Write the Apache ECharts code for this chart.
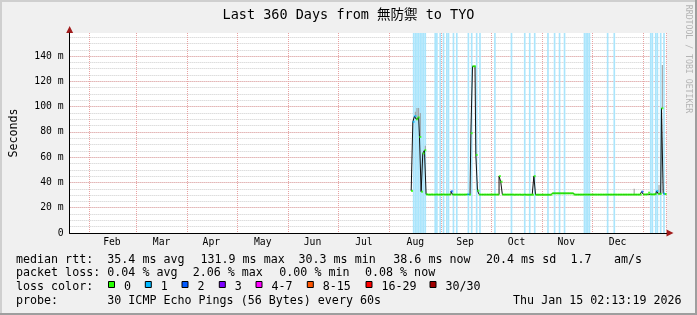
<!DOCTYPE html>
<html><head><meta charset="utf-8">
<script src="https://cdn.jsdelivr.net/npm/echarts@6/dist/echarts.min.js"></script>
<style>html,body{margin:0;padding:0;background:#f0f0f0}#c{width:697px;height:315px}</style>
</head><body><div id="c"></div>
<script>
// ---------------- data ----------------
const titleText = 'Last 360 Days from 無防禦 to TYO';
const rangeEndUTC = [2026, 0, 15, 2, 13, 19];
const rangeDays = 360;
const monthNames = ['Jan','Feb','Mar','Apr','May','Jun','Jul','Aug','Sep','Oct','Nov','Dec'];
const firstDataDate = [2025, 7, 14];
// median rtt (ms), one value per day from firstDataDate
const medianRtt = [
  33.3, 88.0, 92.5, 90.0, 91.5, 76.0, 32.7, 63.0, 65.5, 30.6,
  30.4, 30.4, 30.5, 30.4, 30.4, 30.5, 30.4, 30.4, 30.4, 30.5,
  30.4, 30.4, 30.4, 30.5, 33.0, 30.4, 30.4, 30.4, 30.4, 30.4,
  30.4, 30.4, 30.4, 30.5, 30.6, 30.4, 79.0, 131.9, 131.9, 61.8,
  33.5, 30.4, 30.4, 30.4, 30.4, 30.4, 30.4, 30.4, 30.4, 30.4,
  30.4, 30.4, 30.4, 45.0, 40.6, 30.4, 30.4, 30.4, 30.4, 30.4,
  30.4, 30.4, 30.3, 30.4, 30.3, 30.4, 30.3, 30.3, 30.4, 30.3,
  30.3, 30.3, 30.3, 30.3, 45.0, 30.3, 30.3, 30.3, 30.3, 30.3,
  30.3, 30.3, 30.3, 30.3, 30.3, 31.4, 31.4, 31.4, 31.4, 31.4,
  31.4, 31.4, 31.4, 31.4, 31.4, 31.4, 31.4, 31.4, 30.4, 30.4,
  30.4, 30.4, 30.4, 30.4, 30.4, 30.4, 30.4, 30.4, 30.4, 30.4,
  30.4, 30.4, 30.4, 30.4, 30.4, 30.4, 30.4, 30.4, 30.4, 30.4,
  30.4, 30.4, 30.4, 30.4, 30.4, 30.4, 30.4, 30.4, 30.4, 30.4,
  30.4, 30.4, 30.4, 30.4, 30.4, 30.4, 30.4, 30.4, 30.4, 32.7,
  30.5, 30.5, 30.6, 31.9, 30.6, 30.5, 30.6, 30.7, 33.3, 31.0,
  31.0, 98.7, 31.2, 30.8
];
// top of the smoke (ms) per day, null = none
const smokeTop = [
  null, null, 96, 99, 99, 95, null, null, 69, null,
  null, null, null, null, null, null, null, null, null, null,
  null, null, null, null, null, null, null, null, null, null,
  null, null, null, null, null, null, null, null, null, null,
  null, null, null, null, null, null, null, null, null, null,
  null, null, null, null, null, null, null, null, null, null,
  null, null, null, null, null, null, null, null, null, null,
  null, null, null, null, null, null, null, null, null, null,
  null, null, null, null, null, null, null, null, null, null,
  null, null, null, null, null, null, null, null, null, null,
  null, null, null, null, null, null, null, null, null, null,
  null, null, null, null, null, null, null, null, null, null,
  null, null, null, null, null, null, null, null, null, null,
  null, null, null, null, 35, null, null, null, null, null,
  null, null, null, null, null, null, null, null, null, 38,
  null, 133, null, null
];
// days with packet loss (1 = loss bar shown)
const lossBar = [
  0,1,1,1,1,1,1,1,1,0,
  0,0,0,0,1,1,0,1,0,1,
  0,1,1,0,0,1,0,1,0,0,
  0,0,0,0,1,0,1,0,0,1,
  0,1,0,0,0,0,0,0,0,0,
  1,0,0,0,0,0,0,0,0,0,
  1,0,0,0,0,0,0,0,1,0,
  0,1,0,0,1,0,0,0,0,0,
  0,0,1,0,0,0,1,0,0,1,
  0,0,1,0,0,0,0,0,0,0,
  0,0,0,0,1,1,1,1,0,0,
  0,0,0,0,0,0,0,0,1,0,
  0,0,1,0,0,0,0,0,0,0,
  0,0,0,0,0,0,0,0,0,0,
  0,0,0,0,1,1,0,1,1,0,
  1,0,1,0
];
// loss level used to colour the median (index into lossColors)
const medianLossLevel = [
  0,1,1,0,0,0,0,0,0,0,
  0,0,0,0,0,0,0,0,0,0,
  0,0,0,0,2,0,0,0,0,0,
  0,0,0,0,1,0,0,0,0,0,
  0,0,0,0,0,0,0,0,0,0,
  0,0,0,0,0,0,0,0,0,0,
  0,0,0,0,0,0,0,0,0,0,
  0,0,0,0,0,0,0,0,0,0,
  0,0,0,0,0,0,0,0,0,0,
  0,0,0,0,0,0,0,0,0,0,
  0,0,0,0,0,0,0,0,0,0,
  0,0,0,0,0,0,0,0,0,0,
  0,0,0,0,0,0,0,0,0,0,
  0,0,0,0,0,0,0,0,0,2,
  0,0,0,0,0,0,0,0,1,0,
  0,0,1,0
];
const lossColorLabels = ['0','1','2','3','4-7','8-15','16-29','30/30'];
const lossColors = ['#26ff00','#00b8ff','#0059ff','#7e00ff','#ff00ff','#ff5500','#ff0000','#a10000'];
const rttStats = ['35.4 ms avg','131.9 ms max','30.3 ms min','38.6 ms now','20.4 ms sd','1.7','am/s'];
const lossStats = ['0.04 % avg','2.06 % max','0.00 % min','0.08 % now'];
const probeText = '30 ICMP Echo Pings (56 Bytes) every 60s';
const stampText = 'Thu Jan 15 02:13:19 2026';

// ---------------- layout / style ----------------
const MONO = '"DejaVu Sans Mono", "Noto Sans CJK JP", monospace';
const legendFont = '11.66px ' + MONO;
const rttX = [107.3, 200.5, 298.5, 393.3, 486, 570.5, 614];
const lossX = [107.3, 192.7, 279.3, 365];
const lossBoxX = [108.5, 145.3, 182, 219.3, 256, 307.3, 366, 430];
const rowY = [259.5, 273.2, 286.9, 300.6];
const lossBarColor = '#aae5fc';

// ---------------- derived ----------------
const DAY = 86400000;
const endMs = Date.UTC(...rangeEndUTC);
const startMs = endMs - rangeDays * DAY;
const cats = [];
const monthStart = new Set();
for (let i = 0; i < rangeDays; i++) {
  const d = new Date(startMs + i * DAY);
  cats.push(d.toISOString().slice(0, 10));
  if (d.getUTCDate() === 1) monthStart.add(i);
}
const starts = [...monthStart].sort((a, b) => a - b);
const labelAt = {};
for (let j = 0; j + 1 < starts.length; j++) {
  const d0 = new Date(startMs + starts[j] * DAY);
  const m0 = Date.UTC(d0.getUTCFullYear(), d0.getUTCMonth(), 1);
  const m1 = Date.UTC(d0.getUTCFullYear(), d0.getUTCMonth() + 1, 1);
  const idx = Math.round(((m0 + m1) / 2 - startMs) / DAY - 0.5);
  labelAt[idx] = monthNames[d0.getUTCMonth()];
}
const off = Math.ceil((Date.UTC(...firstDataDate) - startMs) / DAY);
const medianFull = cats.map((c, i) => (i >= off && i - off < medianRtt.length) ? medianRtt[i - off] : null);
const yMax = Math.max(...medianRtt) * 1.2;
const lossBarData = [];
lossBar.forEach((v, k) => { if (v) lossBarData.push([k + off]); });
const smokeData = [];
smokeTop.forEach((v, k) => { if (v != null) smokeData.push([k + off, medianRtt[k], v]); });
const medianByLevel = [[], [], []];
medianRtt.forEach((v, k) => medianByLevel[medianLossLevel[k]].push([k + off, v]));

// ---------------- chart ----------------
const chart = echarts.init(document.getElementById('c'), null, { renderer: 'canvas' });

const graphics = [
  { type: 'rect', shape: { x: 0, y: 0, width: 697, height: 2 }, style: { fill: '#cfcfcf' } },
  { type: 'rect', shape: { x: 0, y: 0, width: 2, height: 315 }, style: { fill: '#cfcfcf' } },
  { type: 'rect', shape: { x: 0, y: 313, width: 697, height: 2 }, style: { fill: '#9e9e9e' } },
  { type: 'rect', shape: { x: 695, y: 0, width: 2, height: 315 }, style: { fill: '#9e9e9e' } },
  { type: 'text', x: 348.5, y: 15, style: { text: titleText, font: '13.5px ' + MONO, fill: '#000', align: 'center', verticalAlign: 'middle' } },
  { type: 'text', x: 688, y: 59, rotation: -Math.PI / 2, style: { text: 'RRDTOOL / TOBI OETIKER', font: '8.2px ' + MONO, fill: '#b4b4b4', align: 'center', verticalAlign: 'middle' } },
  { type: 'text', x: 16, y: rowY[0], style: { text: 'median rtt:', font: legendFont, fill: '#000', verticalAlign: 'middle' } },
  { type: 'text', x: 16, y: rowY[1], style: { text: 'packet loss:', font: legendFont, fill: '#000', verticalAlign: 'middle' } },
  { type: 'text', x: 16, y: rowY[2], style: { text: 'loss color:', font: legendFont, fill: '#000', verticalAlign: 'middle' } },
  { type: 'text', x: 16, y: rowY[3], style: { text: 'probe:', font: legendFont, fill: '#000', verticalAlign: 'middle' } },
  { type: 'text', x: 107.3, y: rowY[3], style: { text: probeText, font: legendFont, fill: '#000', verticalAlign: 'middle' } },
  { type: 'text', x: 681.5, y: rowY[3], style: { text: stampText, font: legendFont, fill: '#000', align: 'right', verticalAlign: 'middle' } }
];
rttStats.forEach((t, i) => graphics.push({ type: 'text', x: rttX[i], y: rowY[0], style: { text: t, font: legendFont, fill: '#000', verticalAlign: 'middle' } }));
lossStats.forEach((t, i) => graphics.push({ type: 'text', x: lossX[i], y: rowY[1], style: { text: t, font: legendFont, fill: '#000', verticalAlign: 'middle' } }));
lossColorLabels.forEach((t, i) => {
  graphics.push({ type: 'rect', shape: { x: lossBoxX[i], y: 281.5, width: 6, height: 6 }, style: { fill: lossColors[i], stroke: '#000', lineWidth: 1 } });
  graphics.push({ type: 'text', x: lossBoxX[i] + 15.5, y: rowY[2], style: { text: t, font: legendFont, fill: '#000', verticalAlign: 'middle' } });
});

const option = {
  animation: false,
  backgroundColor: '#f0f0f0',
  grid: { left: 66.5, right: 30.5, top: 33, bottom: 82, show: true, backgroundColor: '#ffffff', borderWidth: 0 },
  xAxis: [
    {
      type: 'category', data: cats, boundaryGap: true, z: 2,
      axisLine: { show: true, lineStyle: { color: '#000', width: 1 } },
      axisTick: { show: false },
      axisLabel: {
        interval: (i) => labelAt[i] !== undefined,
        formatter: (v, i) => labelAt[i] || '',
        fontFamily: MONO, fontSize: 9.75, color: '#000', margin: 5
      },
      splitLine: { show: true, interval: (i) => monthStart.has(i), lineStyle: { color: '#e9a2a2', type: [1, 1], width: 1 } }
    },
    {
      type: 'value', min: 0, max: 1, position: 'bottom', z: 1,
      axisLine: { show: true, symbol: ['none', 'triangle'], symbolSize: [7, 7], symbolOffset: [0, 3.5], lineStyle: { color: '#a11c1c', width: 1 } },
      axisLabel: { show: false }, axisTick: { show: false }, splitLine: { show: false }
    }
  ],
  yAxis: [
    {
      type: 'value', min: 0, max: yMax, interval: 20, z: 2,
      axisLine: { show: true, lineStyle: { color: '#000', width: 1 } },
      axisTick: { show: false },
      axisLabel: { formatter: (v) => v === 0 ? '0' : v + ' m', showMaxLabel: false, fontFamily: MONO, fontSize: 9.75, color: '#000', margin: 6 },
      splitLine: { show: true, showMinLine: false, showMaxLine: false, lineStyle: { color: '#e9a2a2', type: [1, 1], width: 1 } },
      name: 'Seconds', nameLocation: 'middle', nameRotate: 90, nameGap: 50,
      nameTextStyle: { fontFamily: MONO, fontSize: 11.66, color: '#000' }
    },
    {
      type: 'value', min: 0, max: yMax, interval: 5, z: 1,
      axisLine: { show: false }, axisLabel: { show: false }, axisTick: { show: false },
      splitLine: { show: true, showMinLine: false, showMaxLine: false, lineStyle: { color: '#cdcdcd', type: [1, 1], width: 1 } }
    },
    {
      type: 'value', min: 0, max: 1, position: 'left', z: 1,
      axisLine: { show: true, symbol: ['none', 'triangle'], symbolSize: [7, 7], symbolOffset: [0, 3.5], lineStyle: { color: '#a11c1c', width: 1 } },
      axisLabel: { show: false }, axisTick: { show: false }, splitLine: { show: false }
    }
  ],
  series: [
    {
      type: 'custom', z: 3, silent: true, data: lossBarData,
      renderItem: (params, api) => {
        const top = api.coord([api.value(0), yMax]);
        const bot = api.coord([api.value(0), 0]);
        const w = api.size([1, 0])[0];
        return { type: 'rect', shape: { x: top[0] - w / 2, y: top[1], width: w, height: bot[1] - top[1] }, style: { fill: lossBarColor } };
      }
    },
    {
      type: 'custom', z: 4, silent: true, data: smokeData,
      renderItem: (params, api) => {
        const a = api.coord([api.value(0), api.value(1)]);
        const b = api.coord([api.value(0), api.value(2)]);
        return { type: 'rect', shape: { x: a[0] - 0.5, y: b[1], width: 1, height: a[1] - b[1] }, style: { fill: '#9a9a9a' } };
      }
    },
    {
      type: 'line', data: medianFull, step: 'middle', showSymbol: false, z: 5, silent: true,
      lineStyle: { color: '#111', width: 1 }
    },
    ...medianByLevel.map((d, lvl) => ({
      type: 'scatter', data: d, symbol: 'rect', symbolSize: [2, 2], z: 6, silent: true,
      itemStyle: { color: lossColors[lvl] }
    }))
  ],
  graphic: { elements: graphics }
};
chart.setOption(option);
</script>
</body></html>
